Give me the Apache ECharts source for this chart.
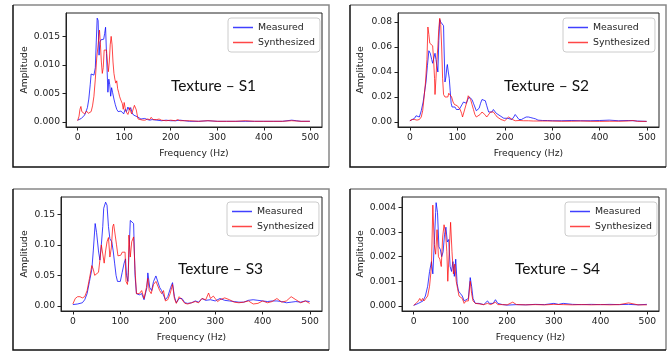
<!DOCTYPE html>
<html>
<head>
<meta charset="utf-8">
<script src="https://cdn.jsdelivr.net/npm/echarts@6.0.0/dist/echarts.min.js"></script>
<style>
  html, body { margin: 0; padding: 0; background: #fff; }
  #main { width: 670px; height: 353px; }
</style>
</head>
<body>
<div id="main"></div>
<script>
// frequency (Hz) / amplitude pairs
var s1Measured = [[0,0.0003],[4,0.0005],[8,0.0006],[12,0.0008],[15,0.0012],[18,0.0018],[21,0.0025],[24,0.004],[27,0.0065],[29,0.0084],[32,0.0086],[35,0.0082],[38,0.0095],[40,0.014],[42,0.0182],[44,0.0178],[46,0.0117],[48,0.014],[50,0.0144],[53,0.0143],[56,0.0145],[58,0.0155],[60,0.0166],[62,0.012],[64,0.0075],[65,0.0052],[67,0.0075],[69,0.0065],[71,0.0045],[73,0.006],[75,0.0052],[78,0.004],[81,0.003],[84,0.0022],[87,0.0018],[90,0.0017],[93,0.0019],[96,0.0016],[99,0.0014],[102,0.0022],[105,0.0018],[108,0.0026],[111,0.0021],[114,0.0025],[117,0.0016],[120,0.0012],[124,0.0013],[128,0.0009],[132,0.0007],[136,0.0005],[140,0.0005],[144,0.0006],[147,0.0008],[150,0.0004],[155,0.0003],[160,0.0004],[170,0.0003],[180,0.0002],[190,0.0003],[200,0.0002],[210,0.0002],[220,0.0003],[230,0.0002],[240,0.0001],[260,0.0001],[280,0.0002],[300,0.0001],[320,0.0001],[340,0.0001],[360,0.0001],[380,0.0001],[400,0.0001],[420,0.0001],[440,0.0001],[460,0.0003],[470,0.0002],[480,0.0001],[499,0.0001]];
var s1Synthesized = [[0,0.0002],[3,0.001],[5,0.0022],[7,0.0027],[9,0.0018],[11,0.0015],[13,0.0016],[15,0.0014],[17,0.0017],[19,0.0019],[21,0.0016],[23,0.0015],[26,0.0016],[29,0.0018],[32,0.0028],[35,0.0045],[38,0.0075],[41,0.0112],[44,0.0135],[47,0.0161],[49,0.0135],[51,0.0105],[53,0.0085],[55,0.0095],[57,0.0126],[60,0.0127],[62,0.0126],[64,0.0105],[66,0.0088],[68,0.0105],[70,0.0135],[72,0.015],[74,0.0135],[76,0.0105],[78,0.0085],[80,0.0075],[82,0.0068],[84,0.0072],[86,0.0058],[88,0.0052],[90,0.0045],[92,0.004],[94,0.0042],[96,0.0032],[98,0.0022],[100,0.0034],[102,0.0025],[104,0.0018],[106,0.0016],[108,0.0013],[110,0.0018],[112,0.0025],[114,0.0018],[116,0.0014],[118,0.0017],[120,0.0024],[122,0.0029],[124,0.0027],[126,0.0021],[128,0.0012],[130,0.0005],[134,0.0003],[140,0.0003],[145,0.0003],[150,0.0005],[155,0.0004],[158,0.0008],[162,0.0004],[166,0.0003],[170,0.0004],[175,0.0005],[180,0.0003],[190,0.0002],[200,0.0003],[210,0.0002],[215,0.0004],[220,0.0002],[240,0.0002],[260,0.0001],[280,0.0002],[300,0.0001],[320,0.0001],[340,0.0001],[360,0.0002],[380,0.0001],[400,0.0001],[420,0.0001],[440,0.0001],[460,0.0002],[480,0.0001],[499,0.0001]];

var s2Measured = [[0,0.001],[5,0.002],[10,0.003],[13,0.005],[16,0.0045],[20,0.004],[24,0.009],[28,0.016],[31,0.024],[34,0.032],[37,0.045],[40,0.057],[43,0.055],[46,0.05],[48,0.047],[51,0.052],[53,0.055],[55,0.05],[57,0.045],[59,0.04],[61,0.065],[63,0.082],[65,0.08],[67,0.079],[69,0.079],[71,0.077],[72,0.06],[74,0.032],[76,0.036],[78,0.044],[79,0.046],[81,0.04],[83,0.035],[85,0.025],[87,0.015],[89,0.012],[92,0.012],[95,0.012],[98,0.01],[101,0.009],[104,0.01],[107,0.011],[110,0.014],[113,0.016],[116,0.015],[119,0.015],[122,0.018],[125,0.02],[128,0.021],[131,0.018],[134,0.015],[137,0.012],[140,0.009],[143,0.008],[146,0.011],[149,0.015],[152,0.018],[155,0.018],[159,0.017],[162,0.013],[166,0.008],[170,0.008],[173,0.008],[176,0.01],[179,0.009],[182,0.007],[186,0.006],[190,0.005],[194,0.004],[198,0.003],[202,0.002],[206,0.003],[210,0.003],[215,0.002],[219,0.004],[222,0.006],[226,0.004],[230,0.002],[235,0.002],[240,0.003],[245,0.004],[250,0.004],[255,0.0035],[260,0.003],[265,0.0025],[270,0.0015],[280,0.0012],[290,0.0012],[300,0.001],[320,0.001],[340,0.0012],[360,0.001],[380,0.001],[400,0.0012],[420,0.0015],[440,0.001],[460,0.0012],[480,0.0008],[499,0.0005]];
var s2Synthesized = [[0,0.001],[5,0.002],[10,0.002],[15,0.0015],[20,0.002],[24,0.004],[27,0.009],[30,0.02],[33,0.032],[36,0.05],[38,0.076],[40,0.07],[42,0.063],[45,0.062],[48,0.061],[50,0.05],[52,0.035],[53,0.022],[55,0.035],[57,0.05],[59,0.06],[61,0.075],[63,0.083],[65,0.078],[67,0.06],[69,0.035],[71,0.022],[74,0.02],[77,0.019],[80,0.02],[82,0.023],[85,0.023],[88,0.02],[91,0.016],[94,0.014],[97,0.014],[100,0.013],[103,0.013],[106,0.01],[109,0.007],[111,0.004],[114,0.008],[117,0.012],[120,0.016],[123,0.021],[125,0.022],[128,0.018],[131,0.014],[134,0.01],[137,0.006],[140,0.004],[144,0.004],[148,0.006],[152,0.008],[155,0.008],[158,0.006],[162,0.004],[166,0.005],[170,0.008],[173,0.009],[176,0.008],[180,0.006],[184,0.004],[188,0.003],[192,0.002],[196,0.001],[200,0.001],[204,0.002],[208,0.004],[212,0.003],[216,0.002],[222,0.001],[230,0.0012],[240,0.001],[250,0.001],[260,0.0008],[280,0.0008],[300,0.0008],[320,0.0006],[340,0.0006],[360,0.0008],[380,0.0006],[400,0.0005],[420,0.0006],[440,0.0006],[460,0.0008],[470,0.0012],[480,0.0005],[499,0.0005]];

var s3Measured = [[0,0.002],[10,0.003],[20,0.005],[25,0.01],[30,0.02],[35,0.04],[40,0.06],[43,0.09],[47,0.135],[50,0.12],[54,0.09],[57,0.075],[60,0.1],[63,0.13],[65,0.16],[69,0.17],[72,0.165],[75,0.13],[78,0.11],[82,0.105],[85,0.09],[88,0.07],[91,0.05],[94,0.04],[96,0.037],[100,0.04],[104,0.055],[108,0.07],[111,0.077],[113,0.05],[116,0.04],[119,0.1],[121,0.14],[125,0.14],[128,0.135],[131,0.05],[134,0.02],[140,0.018],[145,0.02],[150,0.01],[156,0.03],[158,0.054],[162,0.03],[166,0.025],[170,0.04],[175,0.049],[179,0.048],[183,0.03],[187,0.025],[191,0.025],[195,0.01],[200,0.015],[206,0.03],[210,0.038],[214,0.015],[218,0.005],[224,0.012],[230,0.012],[236,0.005],[242,0.004],[250,0.005],[258,0.008],[265,0.006],[272,0.012],[280,0.009],[290,0.01],[300,0.008],[310,0.012],[320,0.009],[330,0.008],[340,0.007],[350,0.006],[360,0.006],[370,0.009],[380,0.01],[390,0.009],[400,0.008],[410,0.007],[420,0.008],[430,0.008],[440,0.007],[450,0.005],[460,0.006],[470,0.007],[480,0.006],[490,0.008],[499,0.007]];
var s3Synthesized = [[0,0.003],[5,0.012],[10,0.015],[15,0.015],[20,0.013],[25,0.015],[30,0.025],[35,0.045],[40,0.066],[43,0.06],[46,0.05],[50,0.048],[54,0.055],[57,0.075],[60,0.1],[63,0.085],[66,0.07],[69,0.09],[72,0.105],[75,0.112],[78,0.08],[81,0.095],[84,0.13],[86,0.134],[89,0.133],[92,0.1],[95,0.082],[98,0.085],[101,0.083],[104,0.088],[107,0.085],[110,0.088],[112,0.04],[115,0.035],[117,0.055],[118,0.116],[121,0.08],[124,0.105],[128,0.113],[131,0.06],[134,0.02],[140,0.02],[145,0.025],[150,0.012],[155,0.03],[158,0.045],[161,0.025],[165,0.02],[170,0.035],[175,0.04],[179,0.04],[183,0.025],[187,0.02],[191,0.025],[195,0.008],[200,0.01],[205,0.02],[210,0.035],[214,0.012],[218,0.004],[224,0.015],[230,0.01],[236,0.004],[242,0.003],[250,0.005],[258,0.007],[265,0.005],[272,0.012],[280,0.01],[286,0.021],[290,0.012],[296,0.016],[300,0.012],[305,0.007],[310,0.01],[320,0.013],[330,0.01],[340,0.006],[350,0.005],[360,0.006],[370,0.008],[380,0.003],[390,0.004],[400,0.008],[410,0.005],[420,0.007],[430,0.012],[440,0.006],[450,0.008],[460,0.015],[470,0.01],[480,0.005],[490,0.008],[499,0.004]];

var s4Measured = [[0,0.00002],[10,0.0001],[20,0.0002],[25,0.0004],[30,0.0008],[34,0.0014],[38,0.0018],[41,0.0013],[44,0.0025],[47,0.0038],[48,0.0042],[51,0.0038],[54,0.0024],[57,0.0023],[60,0.002],[63,0.0022],[66,0.0029],[69,0.0032],[72,0.0026],[75,0.0027],[78,0.0016],[81,0.0014],[84,0.0018],[87,0.0012],[90,0.0019],[93,0.0009],[96,0.0006],[100,0.0005],[104,0.0004],[108,0.0002],[112,0.0002],[117,0.0003],[121,0.00115],[124,0.0008],[127,0.0003],[132,0.0001],[140,0.0001],[150,0.00005],[158,0.0002],[162,0.0001],[170,0.0001],[175,0.00025],[180,0.0001],[190,0.00005],[200,0.00003],[220,0.00005],[240,0.00004],[260,0.00006],[280,0.00005],[300,0.0001],[310,0.00006],[320,0.0001],[340,0.00006],[360,0.00005],[380,0.00006],[400,0.00005],[420,0.00006],[440,0.00005],[460,0.00006],[480,0.00004],[499,0.00006]];
var s4Synthesized = [[0,0.00002],[5,0.0001],[10,0.0002],[13,0.0003],[16,0.0002],[19,0.0003],[22,0.0002],[26,0.0003],[30,0.0004],[34,0.0008],[38,0.0016],[41,0.0041],[44,0.0025],[47,0.0021],[50,0.0031],[53,0.002],[56,0.0019],[59,0.0016],[62,0.0028],[65,0.0033],[68,0.003],[71,0.0022],[73,0.001],[79,0.0034],[82,0.0022],[85,0.0013],[88,0.0017],[91,0.001],[94,0.0007],[97,0.0004],[100,0.0004],[104,0.0003],[108,0.0001],[112,0.0002],[117,0.0002],[121,0.001],[124,0.0005],[127,0.0002],[132,0.0001],[140,0.00008],[150,0.00005],[158,0.0001],[165,0.00005],[175,0.00015],[180,0.00005],[190,0.00005],[200,0.00004],[212,0.00015],[220,0.00005],[240,0.00004],[260,0.00005],[280,0.00004],[300,0.00006],[320,0.00005],[340,0.00004],[360,0.00005],[380,0.00004],[400,0.00005],[420,0.00004],[440,0.00005],[460,0.00012],[480,0.00004],[499,0.00004]];

var xTicks = [0, 100, 200, 300, 400, 500];
var s1Ticks = [0, 0.005, 0.010, 0.015];
var s2Ticks = [0, 0.02, 0.04, 0.06, 0.08];
var s3Ticks = [0, 0.05, 0.10, 0.15];
var s4Ticks = [0, 0.001, 0.002, 0.003, 0.004];
var titles = ['Texture \u2013 S1', 'Texture \u2013 S2', 'Texture \u2013 S3', 'Texture \u2013 S4'];

var blue = 'rgba(0,0,255,0.75)';
var red = 'rgba(255,0,0,0.72)';
var tickFont = 'DejaVu Sans';
var txt = '#222';

var panels = [
    {meas: s1Measured, syn: s1Synthesized, ticks: s1Ticks, dec: 3, ymin: -0.0009, ymax: 0.0191,
     grid: [66, 13, 256, 114], gap: 37, legend: [228, 18], title: [171, 87], box: [13, 5, 329, 167]},
    {meas: s2Measured, syn: s2Synthesized, ticks: s2Ticks, dec: 2, ymin: -0.004, ymax: 0.0872,
     grid: [398, 13, 261, 114], gap: 33, legend: [563, 18], title: [504, 87], box: [350, 5, 666, 167]},
    {meas: s3Measured, syn: s3Synthesized, ticks: s3Ticks, dec: 2, ymin: -0.0085, ymax: 0.1785,
     grid: [61, 197, 261, 114], gap: 32, legend: [227, 202], title: [178, 270], box: [13, 189, 329, 350]},
    {meas: s4Measured, syn: s4Synthesized, ticks: s4Ticks, dec: 3, ymin: -0.00021, ymax: 0.00443,
     grid: [402, 197, 257, 114], gap: 37, legend: [565, 202], title: [515, 270], box: [350, 189, 666, 350]}
];

var grids = [], xAxes = [], yAxes = [], series = [], legends = [], graphics = [];

panels.forEach(function (p, i) {
    grids.push({
        left: p.grid[0], top: p.grid[1], width: p.grid[2], height: p.grid[3],
        show: true, borderColor: '#222', borderWidth: 1, backgroundColor: 'transparent'
    });
    xAxes.push({
        type: 'value', gridIndex: i, min: -25, max: 525,
        name: 'Frequency (Hz)', nameLocation: 'middle', nameGap: 22,
        nameTextStyle: {fontFamily: tickFont, fontSize: 9.2, color: txt},
        axisLine: {show: true, onZero: false, lineStyle: {color: '#222'}},
        axisTick: {show: true, length: 3.5, lineStyle: {color: '#222'}, customValues: xTicks},
        axisLabel: {fontFamily: tickFont, fontSize: 9.2, color: txt, margin: 6, customValues: xTicks},
        splitLine: {show: false}
    });
    yAxes.push({
        type: 'value', gridIndex: i, min: p.ymin, max: p.ymax,
        name: 'Amplitude', nameLocation: 'middle', nameGap: p.gap,
        nameTextStyle: {fontFamily: tickFont, fontSize: 9.2, color: txt},
        axisLine: {show: true, onZero: false, lineStyle: {color: '#222'}},
        axisTick: {show: true, length: 3.5, lineStyle: {color: '#222'}, customValues: p.ticks},
        axisLabel: {fontFamily: tickFont, fontSize: 9.2, color: txt, margin: 6, customValues: p.ticks,
            formatter: function (v) { return v.toFixed(p.dec); }},
        splitLine: {show: false}
    });
    series.push({
        name: 'Measured', type: 'line', xAxisIndex: i, yAxisIndex: i, data: p.meas,
        showSymbol: false, color: blue, lineStyle: {width: 1, color: blue}, animation: false
    });
    series.push({
        name: 'Synthesized', type: 'line', xAxisIndex: i, yAxisIndex: i, data: p.syn,
        showSymbol: false, color: red, lineStyle: {width: 1, color: red}, animation: false
    });
    legends.push({
        data: ['Measured', 'Synthesized'], orient: 'vertical',
        left: p.legend[0], top: p.legend[1], padding: [5, 5, 5, 5], itemGap: 6,
        icon: 'rect', itemWidth: 20, itemHeight: 1.5,
        borderColor: '#ccc', borderWidth: 1, borderRadius: 3, backgroundColor: '#fff',
        textStyle: {fontFamily: tickFont, fontSize: 9.4, color: txt}
    });
    graphics.push({
        type: 'text', left: p.title[0], top: p.title[1] - 9,
        style: {text: titles[i], font: '15.5px Lato', fill: '#111'}
    });
    var b = p.box;
    graphics.push({
        type: 'polyline', shape: {points: [[b[0], b[1]], [b[2], b[1]], [b[2], b[3]]]},
        style: {stroke: '#888', lineWidth: 1.5, fill: null}
    });
    graphics.push({
        type: 'polyline', shape: {points: [[b[0], b[1]], [b[0], b[3]], [b[2], b[3]]]},
        style: {stroke: '#111', lineWidth: 1.5, fill: null}
    });
});

var myChart = echarts.init(document.getElementById('main'));
myChart.setOption({
    animation: false,
    grid: grids,
    xAxis: xAxes,
    yAxis: yAxes,
    legend: legends,
    series: series,
    graphic: graphics
});
</script>
</body>
</html>
